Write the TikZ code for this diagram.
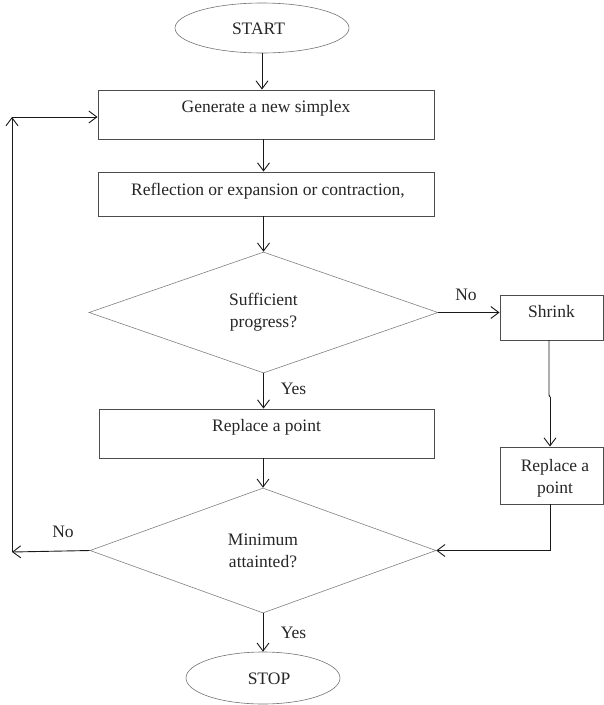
\documentclass[tikz,border=0pt]{standalone}
\usepackage{fontspec}
\setmainfont{Liberation Serif}
\usetikzlibrary{shapes.geometric,arrows.meta}
\begin{document}
\begin{tikzpicture}[x=1pt,y=-1pt,
  every node/.style={font=\fontsize{17.5}{22}\selectfont, text=black!85},
  box/.style={draw=black!70, line width=0.9pt, rectangle, inner sep=0pt},
  oval/.style={draw=black!55, line width=0.6pt, ellipse, inner sep=0pt},
  dec/.style={draw=black!50, line width=0.6pt, diamond, inner sep=0pt, aspect=2.85, align=center},
  conn/.style={draw=black!90, line width=0.9pt, -{Straight Barb[length=8pt,width=12pt]}},
  plain/.style={draw=black!90, line width=0.9pt},
  lbl/.style={inner sep=0pt}
]
\useasboundingbox (0,0) rectangle (604,705);

\node[oval, minimum width=174, minimum height=50] (start) at (262,28) {};
\node[lbl] (starttxt) at (258.5,29) {START};

\node[box, minimum width=336, minimum height=49,
  label={[lbl,yshift=6.5pt]center:Generate a new simplex}] (gen) at (266,114.5) {};
\node[box, minimum width=336, minimum height=44,
  label={[lbl,yshift=3pt,xshift=2pt]center:Reflection or expansion or contraction,}] (refl) at (266,194) {};

\node[dec, minimum width=349, minimum height=121] (d1) at (263.5,312.5) {Sufficient\\progress?};

\node[box, minimum width=103, minimum height=45,
  label={[lbl,yshift=5.5pt]center:Shrink}] (shrink) at (551.5,317.5) {};

\node[box, minimum width=335, minimum height=49,
  label={[lbl,yshift=6.5pt]center:Replace a point}] (rep) at (266.5,433.5) {};

\node[box, minimum width=103, minimum height=57] (rep2) at (551.5,475.5) {};
\node[lbl, align=center] (rep2txt) at (555,478.5) {Replace a\\point};

\node[dec, minimum width=346, minimum height=125] (d2) at (263,550.5) {Minimum\\attainted?};

\node[oval, minimum width=154, minimum height=52] (stop) at (263,678) {};
\node[lbl] (stoptxt) at (269,679) {STOP};

% labels
\node[lbl] (no1) at (466,295) {No};
\node[lbl] (yes1) at (293.5,389) {Yes};
\node[lbl] (no2) at (63,532) {No};
\node[lbl] (yes2) at (293.5,633) {Yes};

% coordinates
\coordinate (L1) at (12,552);
\coordinate (L2) at (12,117);
\coordinate (S1) at (549,340);
\coordinate (S2) at (549,395);
\coordinate (S3) at (550,397);
\coordinate (R1) at (550,504);

% connectors
\draw[conn] (start.south) -- (start.south |- gen.north);
\draw[conn] (gen.south -| d1.north) -- (refl.north -| d1.north);
\draw[conn] (refl.south -| d1.north) -- (d1.north);
\draw[conn] (d1.south) -- (d1.south |- rep.north);
\draw[conn] (rep.south -| d2.north) -- (d2.north);
\draw[conn] (d2.south) -- (d2.south |- stop.north);
\draw[conn] (d1.east) -- (d1.east -| shrink.west);
\draw[plain] (S1) -- (S2) -- (S3);
\draw[conn] (S3) -- (S3 |- rep2.north);
\draw[conn] (R1) |- (d2.east);
\draw[conn] (d2.west) -- (L1);
\draw[conn] (L1) -- (L2);
\draw[conn] (L2) -- (L2 -| gen.west);
\end{tikzpicture}
\end{document}
